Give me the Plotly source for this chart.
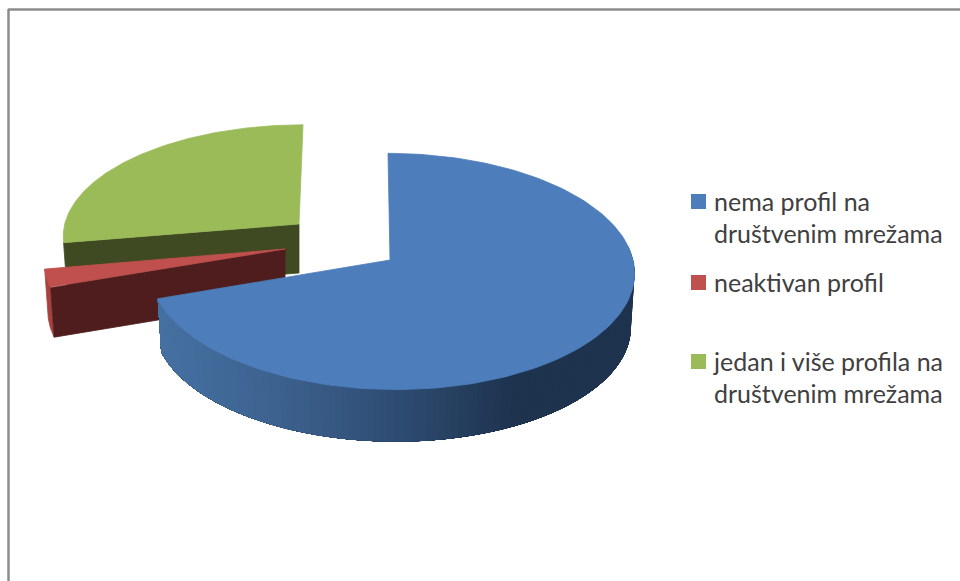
import numpy as np
import plotly.graph_objects as go

# ---- data ----
categories = ["nema profil na<br>društvenim mrežama", "neaktivan profil", "jedan i više profila na<br>društvenim mrežama"]
values = [69.8, 2.5, 27.7]
top_colors = ["#4d7ebb", "#c0504d", "#9bbb59"]
cut_colors = ["#44709f", "#4f1d1d", "#404a22"]

W, H = 960, 581
K = 0.097
RX, RY = 241.0, 117.0
# per-slice placement of the exploded wedges
tips = [(390, 260), (285, 249), (299, 224)]
yscale = [1.0, 1.0, 0.93]
xscale = [1.0, 0.995, 0.972]
shear = [-4.0, 0.0, 4.0]
rim_dx = [2.0, 0.0, 0.0]
depth = [54, 50, 49]
BOTTOM_SCALE = 0.985

fracs = np.array(values) / sum(values)
edges = np.concatenate([[0], np.cumsum(fracs)]) * 2 * np.pi


def proj(i, th, scale=1.0, dz=0.0, r=1.0):
    u, v = np.sin(th) * r, np.cos(th) * r
    s = 1 / (1 + K * v)
    x = tips[i][0] + rim_dx[i] + scale * (xscale[i] * RX * u * s + shear[i] * v)
    y = tips[i][1] - scale * yscale[i] * RY * v * s + dz
    return x, y


def poly(xs, ys, color, width=0.8):
    return go.Scatter(x=list(xs), y=list(ys), mode="lines", fill="toself", fillcolor=color,
                      line=dict(color=color, width=width), showlegend=False, hoverinfo="skip")


def top(i):
    th = np.linspace(edges[i], edges[i + 1], 160)
    x, y = proj(i, th)
    return poly(np.r_[tips[i][0], x, tips[i][0]], np.r_[tips[i][1], y, tips[i][1]], top_colors[i])


def cut(i, th0):
    x, y = proj(i, np.array([th0]))
    x2, y2 = proj(i, np.array([th0]), BOTTOM_SCALE, depth[i])
    tx, ty = tips[i]
    return poly([tx, x[0], x2[0], tx, tx], [ty, y[0], y2[0], ty + depth[i], ty], cut_colors[i])


def wall_color(px):
    stops_x = [155, 280, 400, 520, 640]
    stops_c = [(0x46, 0x72, 0xa3), (0x3d, 0x62, 0x8f), (0x2f, 0x4d, 0x73), (0x1d, 0x33, 0x4e), (0x1f, 0x34, 0x4f)]
    return "rgb(%d,%d,%d)" % tuple(np.interp(px, stops_x, [c[k] for c in stops_c]) for k in range(3))


fig = go.Figure()

# green wedge
fig.add_trace(cut(2, edges[2]))
fig.add_trace(top(2))
# red wedge
th = np.linspace(edges[1], edges[2], 12)
x1, y1 = proj(1, th)
x2, y2 = proj(1, th, BOTTOM_SCALE, depth[1])
fig.add_trace(poly(np.r_[x1, x2[::-1]], np.r_[y1, y2[::-1]], "#a8423f"))
fig.add_trace(cut(1, edges[1]))
fig.add_trace(top(1))
# blue wedge: wall built as overlapping strips shaded by position
wall = np.linspace(np.pi * 0.46, edges[1], 120)
for n in range(len(wall) - 1):
    # each strip runs on to the far end of the wall, so later strips cover earlier ones without seams
    t = np.linspace(wall[n], wall[-1], 40)
    xa, ya = proj(0, t)
    xb, yb = proj(0, t, BOTTOM_SCALE, depth[0])
    fig.add_trace(poly(np.r_[xa, xb[::-1]], np.r_[ya, yb[::-1]], wall_color(xa[0]), 0))
fig.add_trace(top(0))

# legends, one per entry so the uneven spacing is kept; swatches sit on the first text line
names = ["legend", "legend2", "legend3"]
legend_y = [178, 259, 338]
swatch_x = 691
swatch_size = 15
shapes = [
    dict(type="line", x0=8.5, x1=8.5, y0=9, y1=H, line=dict(color="#8c8c8c", width=2.5)),
    dict(type="line", x0=8, x1=W, y0=9.5, y1=9.5, line=dict(color="#8c8c8c", width=2.5)),
]
for c, col, ln, yy in zip(categories, top_colors, names, legend_y):
    fig.add_trace(go.Scatter(x=[None], y=[None], mode="markers", name=c, legend=ln,
                             marker=dict(symbol="square", size=15, color="rgba(0,0,0,0)")))
    shapes.append(dict(type="rect", x0=swatch_x, x1=swatch_x + swatch_size, y0=yy + 16, y1=yy + 16 + swatch_size,
                       fillcolor=col, line=dict(width=0)))

layout_legends = {
    ln: dict(x=674 / W, y=1 - yy / H, xanchor="left", yanchor="top", bgcolor="rgba(0,0,0,0)",
             font=dict(family="Lato", size=25, color="#404040"), itemclick=False, itemdoubleclick=False)
    for ln, yy in zip(names, legend_y)
}

fig.update_layout(
    width=W, height=H, margin=dict(l=0, r=0, t=0, b=0), autosize=False,
    paper_bgcolor="white", plot_bgcolor="white",
    xaxis=dict(range=[0, W], visible=False, fixedrange=True),
    yaxis=dict(range=[H, 0], visible=False, fixedrange=True),
    shapes=shapes,
    **layout_legends,
)
fig.write_html("out.html", config={"displayModeBar": False},
               post_script="document.body.style.margin='0';document.documentElement.style.overflow='hidden';")
